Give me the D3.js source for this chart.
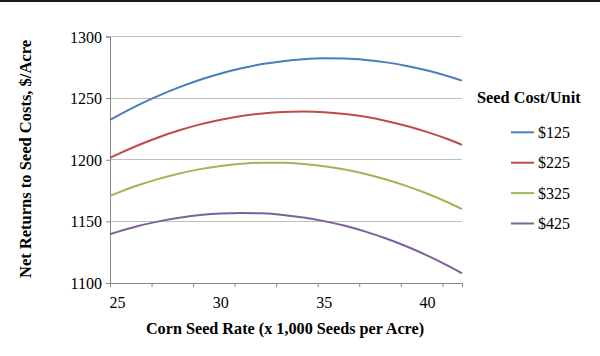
<!DOCTYPE html>
<html><head><meta charset="utf-8">
<script src="https://cdn.jsdelivr.net/npm/d3@7"></script>
<style>
html,body{margin:0;padding:0;background:#fff;}
svg{display:block;}
svg text{font-family:"Liberation Serif","Times New Roman",serif !important;fill:#000;}
</style></head>
<body>
<script>
const seedRates = [24.64,25,26,27,28,29,30,31,32,33,34,35,36,37,38,39,40,41,41.67];
const cost125 = [1232.3,1235.6,1244.3,1252.0,1258.9,1264.9,1270.0,1274.2,1277.6,1280.0,1281.6,1282.3,1282.1,1281.0,1279.0,1276.1,1272.4,1267.8,1264.2];
const cost225 = [1201.5,1204.4,1211.8,1218.3,1223.9,1228.7,1232.5,1235.5,1237.6,1238.8,1239.1,1238.6,1237.1,1234.8,1231.5,1227.4,1222.4,1216.6,1212.1];
const cost325 = [1170.7,1173.1,1179.3,1184.5,1188.9,1192.4,1195.0,1196.7,1197.6,1197.5,1196.6,1194.8,1192.1,1188.5,1184.0,1178.6,1172.4,1165.3,1160.0];
const cost425 = [1139.6,1141.5,1146.3,1150.0,1153.0,1155.1,1156.4,1156.8,1156.5,1155.2,1153.1,1150.2,1146.4,1141.7,1136.1,1129.6,1122.2,1113.9,1107.9];
const seriesNames = ["$125","$225","$325","$425"];
const seriesColors = ["#4a7ebb","#be4b48","#98b954","#7d60a0"];
const xTickLabels = [25,30,35,40];
const xTickMarks = [24.64,26.65,28.66,30.67,32.68,34.69,36.7,38.71,40.72];
const yTickLabels = [1100,1150,1200,1250,1300];
const xDomain = [24.64,41.67];
const yDomain = [1100,1300];

const FONT="Liberation Serif, Times New Roman, serif";
const W=600,H=356;
const svg=d3.select("body").append("svg").attr("width",W).attr("height",H);
svg.append("rect").attr("x",0).attr("y",0).attr("width",W).attr("height",2).attr("fill","#1a1a1a");

const x=d3.scaleLinear().domain(xDomain).range([110,462]);
const y=d3.scaleLinear().domain(yDomain).range([283,36.5]);

// gridlines
svg.append("g").selectAll("line").data(yTickLabels.slice(1)).join("line")
  .attr("x1",110).attr("x2",462).attr("y1",d=>y(d)).attr("y2",d=>y(d))
  .attr("stroke","#bfbfbf").attr("stroke-width",1).attr("shape-rendering","crispEdges");

// y axis
const yAxis=svg.append("g").attr("transform","translate(110,0)")
  .call(d3.axisLeft(y).tickValues(yTickLabels).tickSize(4).tickPadding(4).tickFormat(d3.format("d")));
yAxis.attr("font-family",FONT).attr("font-size",16);
yAxis.select(".domain").attr("stroke","#868686");
yAxis.selectAll(".tick line").attr("stroke","#868686");
yAxis.selectAll("text").attr("dy","0.35em");

// x axis
const xAxis=svg.append("g").attr("transform","translate(0,283)")
  .call(d3.axisBottom(x).tickValues(xTickMarks).tickSize(4).tickFormat(""));
xAxis.select(".domain").attr("stroke","#868686");
xAxis.selectAll(".tick line").attr("stroke","#868686");
svg.append("g").attr("font-family",FONT).selectAll("text").data(xTickLabels).join("text")
  .attr("x",d=>x(d)).attr("y",308).attr("text-anchor","middle")
  .attr("font-size",16).text(d=>d);

// lines
const allSeries=[cost125,cost225,cost325,cost425];
const line=d3.line().x((d,i)=>x(seedRates[i])).y(d=>y(d)).curve(d3.curveMonotoneX);
svg.append("g").selectAll("path").data(allSeries).join("path")
  .attr("d",d=>line(d)).attr("fill","none")
  .attr("stroke",(d,i)=>seriesColors[i]).attr("stroke-width",2);

// axis titles
svg.append("text").attr("transform","translate(31,159) rotate(-90)").attr("font-family",FONT)
  .attr("text-anchor","middle").attr("font-weight","bold").attr("font-size",16.5)
  .text("Net Returns to Seed Costs, $/Acre");
svg.append("text").attr("x",285).attr("y",334).attr("text-anchor","middle").attr("font-family",FONT)
  .attr("font-weight","bold").attr("font-size",16.2)
  .text("Corn Seed Rate (x 1,000 Seeds per Acre)");

// legend
svg.append("text").attr("x",477).attr("y",103).attr("font-weight","bold").attr("font-size",16.3).attr("font-family",FONT)
  .text("Seed Cost/Unit");
const lg=svg.append("g").attr("font-family",FONT).selectAll("g").data(seriesNames).join("g")
  .attr("transform",(d,i)=>`translate(0,${132.3+i*30.4})`);
lg.append("line").attr("x1",511).attr("x2",534).attr("y1",0).attr("y2",0)
  .attr("stroke",(d,i)=>seriesColors[i]).attr("stroke-width",2);
lg.append("text").attr("x",538).attr("y",5.5).attr("font-size",16).text(d=>d);
</script>
</body></html>
